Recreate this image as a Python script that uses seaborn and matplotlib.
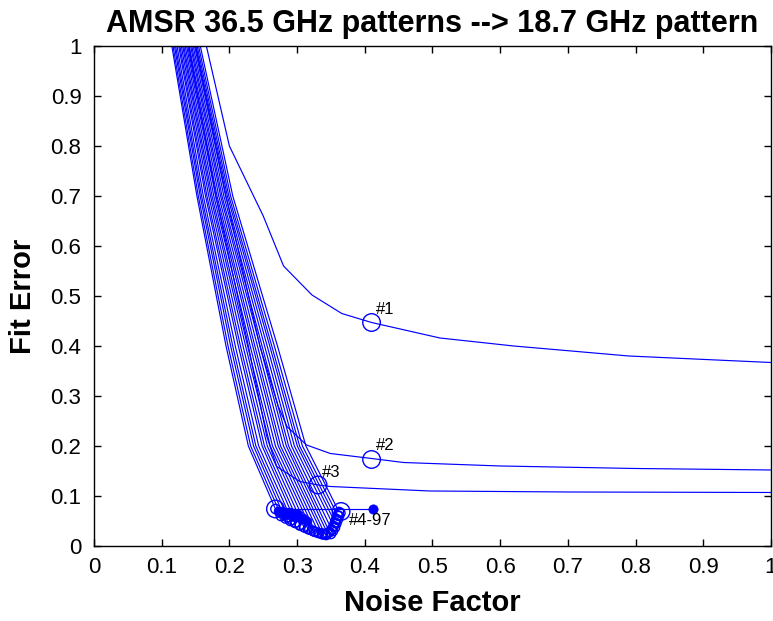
import numpy as np
import pandas as pd
import matplotlib
matplotlib.use("Agg")
import matplotlib.pyplot as plt
import seaborn as sns

# ---------------- data ----------------
title = "AMSR 36.5 GHz patterns --> 18.7 GHz pattern"
x_label = "Noise Factor"
y_label = "Fit Error"
x_ticks = [0, 0.1, 0.2, 0.3, 0.4, 0.5, 0.6, 0.7, 0.8, 0.9, 1]
x_tick_labels = ["0", "0.1", "0.2", "0.3", "0.4", "0.5", "0.6", "0.7", "0.8", "0.9", "1"]
y_ticks = [0, 0.1, 0.2, 0.3, 0.4, 0.5, 0.6, 0.7, 0.8, 0.9, 1]
y_tick_labels = ["0", "0.1", "0.2", "0.3", "0.4", "0.5", "0.6", "0.7", "0.8", "0.9", "1"]

# pattern #1
p1_x = [0.166, 0.200, 0.250, 0.280, 0.322, 0.366, 0.410, 0.511, 0.620, 0.790, 1.000]
p1_y = [1.000, 0.800, 0.660, 0.560, 0.502, 0.465, 0.447, 0.416, 0.400, 0.380, 0.367]
# pattern #2
p2_x = [0.150, 0.195, 0.245, 0.272, 0.285, 0.314, 0.349, 0.410, 0.457, 0.600, 0.800, 1.000]
p2_y = [1.000, 0.700, 0.400, 0.280, 0.239, 0.202, 0.185, 0.175, 0.167, 0.160, 0.155, 0.152]
# pattern #3
p3_x = [0.140, 0.180, 0.228, 0.255, 0.270, 0.304, 0.331, 0.349, 0.496, 0.700, 1.000]
p3_y = [1.000, 0.700, 0.400, 0.220, 0.159, 0.129, 0.122, 0.119, 0.110, 0.108, 0.107]

# best (selected) points of patterns #1..#3
sel_x = [0.410, 0.410, 0.331]
sel_y = [0.447, 0.173, 0.122]
sel_labels = ["#1", "#2", "#3"]

# patterns #4-97: x positions at fit error 1.0, 0.7, 0.4, 0.2 and the minimum
b_x_top = [0.1150, 0.1167, 0.1188, 0.1205, 0.1226, 0.1251, 0.1268, 0.1289, 0.1310, 0.1326, 0.1347,
           0.1368, 0.1385, 0.1406, 0.1427, 0.1444, 0.1465, 0.1486, 0.1507, 0.1524, 0.1545, 0.1570]
b_x_70 = [0.1520, 0.1541, 0.1568, 0.1589, 0.1615, 0.1647, 0.1668, 0.1695, 0.1721, 0.1743, 0.1769,
          0.1796, 0.1817, 0.1843, 0.1870, 0.1891, 0.1918, 0.1944, 0.1970, 0.1992, 0.2018, 0.2050]
b_x_40 = [0.1950, 0.1980, 0.2018, 0.2049, 0.2087, 0.2132, 0.2163, 0.2201, 0.2239, 0.2269, 0.2307,
          0.2345, 0.2376, 0.2414, 0.2452, 0.2482, 0.2520, 0.2558, 0.2596, 0.2626, 0.2664, 0.2710]
b_x_20 = [0.2280, 0.2314, 0.2357, 0.2391, 0.2433, 0.2484, 0.2518, 0.2560, 0.2603, 0.2637, 0.2680,
          0.2722, 0.2756, 0.2799, 0.2841, 0.2875, 0.2918, 0.2960, 0.3003, 0.3037, 0.3079, 0.3130]
b_min_x = [0.268, 0.274, 0.280, 0.286, 0.292, 0.298, 0.304, 0.310, 0.316, 0.322, 0.327,
           0.332, 0.337, 0.341, 0.345, 0.348, 0.351, 0.354, 0.356, 0.358, 0.360, 0.362]
b_min_y = [0.074, 0.068, 0.062, 0.057, 0.052, 0.047, 0.042, 0.038, 0.034, 0.031, 0.028,
           0.026, 0.025, 0.024, 0.025, 0.028, 0.033, 0.040, 0.047, 0.054, 0.061, 0.068]
b_levels = [1.0, 0.7, 0.4, 0.2]

# further minima of the #4-97 group (open circles)
more_min_x = [0.276, 0.283, 0.290, 0.297, 0.304, 0.311, 0.318, 0.325, 0.332, 0.338, 0.343,
              0.350, 0.353, 0.356, 0.358, 0.360, 0.362, 0.364]
more_min_y = [0.060, 0.055, 0.050, 0.046, 0.041, 0.037, 0.033, 0.029, 0.026, 0.023, 0.022,
              0.024, 0.030, 0.037, 0.045, 0.052, 0.060, 0.066]
# minima drawn as filled dots
dot_min_x = [0.272, 0.278, 0.284, 0.290, 0.296, 0.302, 0.280, 0.288, 0.295, 0.308, 0.315]
dot_min_y = [0.070, 0.069, 0.068, 0.067, 0.066, 0.064, 0.064, 0.061, 0.058, 0.055, 0.050]

# end markers of the #4-97 group and its label point
grp_end_x = [0.268, 0.365]
grp_end_y = [0.074, 0.069]
grp_tail_x = [0.268, 0.412]
grp_tail_y = [0.073, 0.073]

# ---------------- build tables ----------------
rows = []
for name, xs, ys in [("p1", p1_x, p1_y), ("p2", p2_x, p2_y), ("p3", p3_x, p3_y)]:
    for i, (xv, yv) in enumerate(zip(xs, ys)):
        rows.append({"curve": name, "order": i, "x": xv, "y": yv})
for k in range(len(b_x_top)):
    xs = [b_x_top[k], b_x_70[k], b_x_40[k], b_x_20[k], b_min_x[k]]
    ys = b_levels + [b_min_y[k]]
    for i, (xv, yv) in enumerate(zip(xs, ys)):
        rows.append({"curve": f"b{k}", "order": i, "x": xv, "y": yv})
for i, (xv, yv) in enumerate(zip(grp_tail_x, grp_tail_y)):
    rows.append({"curve": "tail", "order": i, "x": xv, "y": yv})
lines_df = pd.DataFrame(rows)

# ---------------- plot ----------------
sns.set_style("ticks")
plt.rcParams["font.family"] = ["Liberation Sans", "DejaVu Sans"]
plt.rcParams["text.color"] = "black"
plt.rcParams["axes.labelcolor"] = "black"
plt.rcParams["xtick.color"] = "black"
plt.rcParams["ytick.color"] = "black"

fig = plt.figure(figsize=(7.73, 6.21), dpi=100)
ax = fig.add_axes([0.1216, 0.1208, 0.8758, 0.8051])

blue = "#0000ff"
sns.lineplot(data=lines_df, x="x", y="y", units="curve", estimator=None, sort=False,
             color=blue, lw=0.85, ax=ax, legend=False)

# minima of #4-97
sns.scatterplot(x=b_min_x + more_min_x, y=b_min_y + more_min_y, ax=ax, s=45, marker="o",
                facecolor="none", edgecolor=blue, linewidth=1.0, legend=False)
sns.scatterplot(x=dot_min_x, y=dot_min_y, ax=ax, s=40, marker="o",
                color=blue, edgecolor=blue, linewidth=0.5, legend=False)
# big open circles
sns.scatterplot(x=sel_x + grp_end_x, y=sel_y + grp_end_y, ax=ax, s=160, marker="o",
                facecolor="none", edgecolor=blue, linewidth=1.0, legend=False)
# filled label dot
sns.scatterplot(x=[grp_tail_x[-1]], y=[grp_tail_y[-1]], ax=ax, s=45, marker="o",
                color=blue, edgecolor=blue, linewidth=0.5, legend=False)

# labels
label_offsets = [(0.007, 0.025), (0.007, 0.028), (0.006, 0.025)]
for lx, ly, t, (dx, dy) in zip(sel_x, sel_y, sel_labels, label_offsets):
    ax.text(lx + dx, ly + dy, t, fontsize=12, ha="left", va="center", color="black")
ax.text(0.377, 0.051, "#4-97", fontsize=12, ha="left", va="center", color="black")

ax.set_xlim(0, 1)
ax.set_ylim(0, 1)
ax.set_xticks(x_ticks)
ax.set_xticklabels(x_tick_labels, fontsize=16)
ax.set_yticks(y_ticks)
ax.set_yticklabels(y_tick_labels, fontsize=16)
ax.tick_params(direction="in", length=5, width=1, top=True, right=True, colors="black")
ax.tick_params(axis="y", pad=9)
ax.tick_params(axis="x", pad=8)
for sp in ax.spines.values():
    sp.set_visible(True)
    sp.set_linewidth(1.0)
    sp.set_color("black")

ax.set_xlabel(x_label, fontsize=21, fontweight="bold", labelpad=8)
ax.set_ylabel(y_label, fontsize=21, fontweight="bold", labelpad=10)
ax.set_title(title, fontsize=22, fontweight="bold", pad=10, color="black")

fig.savefig("out.png", dpi=100)
